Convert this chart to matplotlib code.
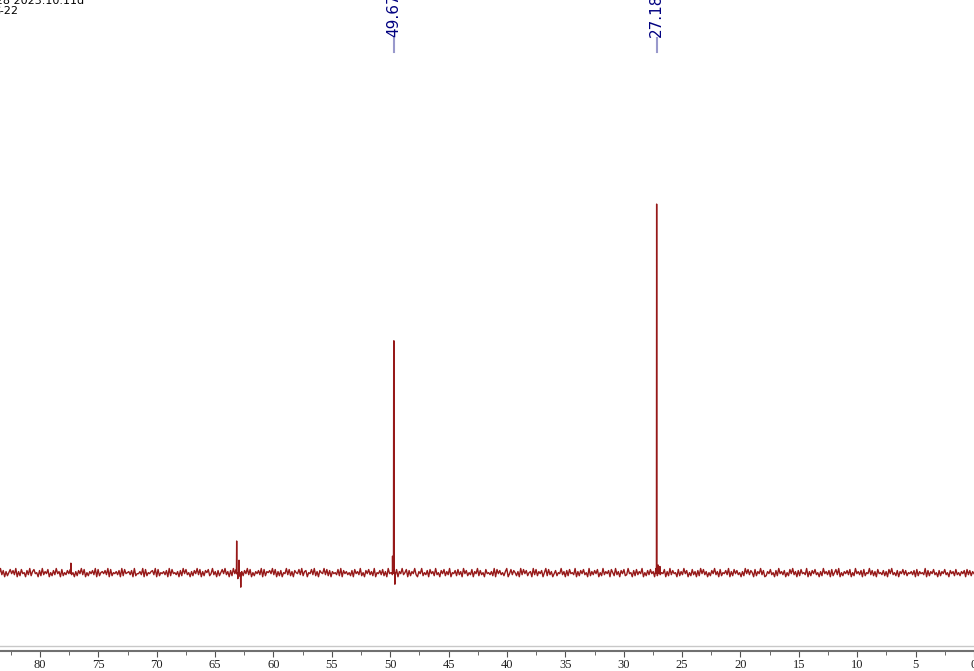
import numpy as np
import matplotlib
matplotlib.use("Agg")
import matplotlib.pyplot as plt

# 13C spectrum, intensity scaled so the 27.18 ppm peak = 100
peak_shifts = [77.35, 63.15, 63.05, 62.95, 62.80, 49.80, 49.70, 49.67, 49.60, 27.18, 27.05, 26.90]
peak_heights = [2.7, 8.7, -1.5, 3.5, -3.8, 4.6, 62.9, 62.9, -3.0, 100.0, 2.2, 1.8]
labels = ["49.67", "27.18"]
label_shifts = [49.67, 27.18]

# hand-read baseline wiggle (digits 0-9, 4.5 = flat), from 0 ppm up to 83.5 ppm
noise = ("46273817462538264715384627153846271935462817364527"
         "38461725394816273548162739452817364925183746251938"
         "52817364926153847261935482716394825173649271538462"
         "17394628157384926153748261937452816394725163849271"
         "63825174936281547392618453729164837251946382715493"
         "28471639258174639251847362915384726193548271639452"
         "74163829517462839165274839162573841962537481926354"
         "81537294618352749163827451936284715392648173529461"
         "39462718539461827354916283745192638471529364817253"
         "64719283546172839457162938451762938457162839451726"
         "18394756281937462518394726153849271639485271639428"
         "57261839472615384927163548291736452819376452819364"
         "42917365482917364528193746528193746251839472615384"
         "73528164937251846392715486293715482619374852617394")
ticks = [80, 75, 70, 65, 60, 55, 50, 45, 40, 35, 30, 25, 20, 15, 10, 5, 0]

base_x = np.linspace(0, 83.5, len(noise))
base_y = (np.array([int(c) for c in noise]) - 4.5) * 0.28

# put the peaks in with the baseline, narrow sticks
px, py = [], []
for s, h in zip(peak_shifts, peak_heights):
    px += [s + 0.02, s, s - 0.02]
    py += [0.0, h, 0.0]
x = np.concatenate([base_x, px])
y = np.concatenate([base_y, py])
order = np.argsort(x)
x, y = x[order], y[order]

fig = plt.figure(figsize=(9.74, 6.71), dpi=100)
ax = fig.add_axes([0, 20 / 671, 1, 651 / 671])
ax.plot(x, y, color="#8b0000", lw=1.0, alpha=0.9)
ax.set_xlim(83.42, 0.125)
ax.set_ylim(-21.1, 155.3)

for side in ["top", "left", "right"]:
    ax.spines[side].set_visible(False)
ax.spines["bottom"].set_color("#707070")
ax.spines["bottom"].set_linewidth(1.5)
ax.set_yticks([])
ax.set_xticks(ticks)
ax.set_xticks(np.arange(82.5, 0, -5), minor=True)
ax.tick_params(axis="x", which="major", direction="out", length=4, color="#505050",
               pad=2, labelsize=9, labelcolor="#202020")
ax.tick_params(axis="x", which="minor", direction="out", length=3, color="#505050")
for t in ax.get_xticklabels():
    t.set_family("Liberation Serif")
ax.axhline(-21.1 + 5 * 0.271, color="#c8c8c8", lw=1)

tr = ax.get_xaxis_transform()
for lab, s in zip(labels, label_shifts):
    ax.plot([s, s], [0.9201, 0.9416], transform=tr, color="#9999cc", lw=1.5, clip_on=False)
    ax.text(s, 0.943, lab, transform=tr, rotation=90, ha="center", va="bottom",
            color="#000080", fontsize=11, clip_on=False)

fig.text(-0.012, 1 - 1 / 671, "C28 2023.10.11d", fontsize=8, va="center", ha="left")
fig.text(-0.008, 1 - 11 / 671, "C-22", fontsize=8, va="center", ha="left")

fig.savefig("out.png", dpi=100)
